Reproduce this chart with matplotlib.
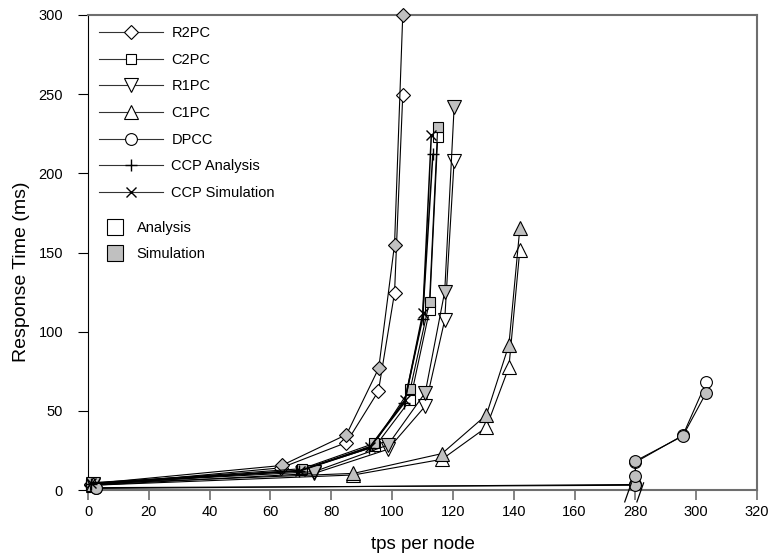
import numpy as np
import matplotlib
matplotlib.use("Agg")
import matplotlib.pyplot as plt
from matplotlib.lines import Line2D

plt.rcParams['font.family'] = ['Liberation Sans', 'DejaVu Sans']

# data (tps per node, response time in ms)
r2pc_ana_x = [1, 63.5, 85, 95.5, 100.8, 103.5]
r2pc_ana_y = [3, 14, 30, 62.5, 124.5, 249.5]
r2pc_sim_x = [1, 63.7, 85, 95.6, 100.8, 103.5]
r2pc_sim_y = [4, 15.5, 35, 77, 155, 300]

c2pc_ana_x = [1, 70, 94.4, 106, 112.3, 115]
c2pc_ana_y = [3, 12.5, 27.5, 57, 113.5, 223]
c2pc_sim_x = [1, 70.5, 94.2, 106, 112.3, 115]
c2pc_sim_y = [4, 13.5, 29.5, 64, 119, 229.5]

r1pc_ana_x = [1.5, 74.4, 98.6, 110.9, 117.3, 120.4]
r1pc_ana_y = [3, 10.5, 25.7, 53, 107.4, 208]
r1pc_sim_x = [1.5, 74.4, 98.6, 110.9, 117.3, 120.4]
r1pc_sim_y = [4, 11.6, 28.4, 61.5, 125.3, 242]

c1pc_ana_x = [1.5, 87.3, 116.4, 131, 138.4, 142]
c1pc_ana_y = [3, 9.5, 19.4, 39.6, 77.5, 151.6]
c1pc_sim_x = [1.5, 87.3, 116.4, 131, 138.4, 142]
c1pc_sim_y = [4, 10.5, 23, 47.4, 91.6, 165.3]

dpcc_ana_x = [2.5, 280, 280, 295.6, 303.3]
dpcc_ana_y = [1, 3.5, 17.5, 34.5, 68]
dpcc_sim_x = [2.5, 280, 280, 280, 295.6, 303.3]
dpcc_sim_y = [1.5, 3, 9, 18.3, 34.1, 61.5]

ccp_ana_x = [1, 69.5, 92.5, 104, 110, 113.4]
ccp_ana_y = [4, 12, 26.5, 55, 108, 212]
ccp_sim_x = [1, 69.6, 92.8, 104.3, 110.1, 112.9]
ccp_sim_y = [4.5, 12.2, 27.4, 57, 111.6, 224.2]

x_ticks = [0, 20, 40, 60, 80, 100, 120, 140, 160, 280, 300, 320]
y_ticks = [0, 50, 100, 150, 200, 250, 300]

GRAY = '#c0c0c0'
SPINE = '#6e6e6e'


# broken x axis: the 180..280 gap is collapsed
def fwd(x):
    x = np.asarray(x, dtype=float)
    return np.where(x < 230, x, x - 100)


def inv(x):
    x = np.asarray(x, dtype=float)
    return np.where(x < 180, x, x + 100)


fig = plt.figure(figsize=(7.68, 5.59), dpi=100)
ax = fig.add_axes([0.1146, 0.1234, 0.8711, 0.8498])
ax.set_xscale('function', functions=(fwd, inv))

series = [
    ('D', 7.2, r2pc_ana_x, r2pc_ana_y, r2pc_sim_x, r2pc_sim_y),
    ('s', 7.2, c2pc_ana_x, c2pc_ana_y, c2pc_sim_x, c2pc_sim_y),
    ('v', 10, r1pc_ana_x, r1pc_ana_y, r1pc_sim_x, r1pc_sim_y),
    ('^', 10, c1pc_ana_x, c1pc_ana_y, c1pc_sim_x, c1pc_sim_y),
    ('o', 8.5, dpcc_ana_x, dpcc_ana_y, dpcc_sim_x, dpcc_sim_y),
]
for m, ms, ax_x, ax_y, sx, sy in series:
    ax.plot(ax_x, ax_y, color='black', lw=0.8, marker=m, ms=ms,
            mfc='white', mec='black', mew=0.8, clip_on=False, zorder=3)
    ax.plot(sx, sy, color='black', lw=0.8, marker=m, ms=ms,
            mfc=GRAY, mec='black', mew=0.8, clip_on=False, zorder=3)

ax.plot(ccp_ana_x, ccp_ana_y, color='black', lw=1.1, marker='+', ms=9,
        mew=1.0, clip_on=False, zorder=4)
ax.plot(ccp_sim_x, ccp_sim_y, color='black', lw=1.1, marker='x', ms=7,
        mew=1.0, clip_on=False, zorder=4)

ax.set_xlim(0, 320)
ax.set_ylim(0, 300)
ax.set_xticks(x_ticks)
ax.set_xticklabels([str(t) for t in x_ticks])
ax.set_yticks(y_ticks)
ax.tick_params(axis='both', direction='out', length=7, width=1.2,
               color=SPINE, labelsize=10.5)
ax.tick_params(axis='x', pad=4)
ax.tick_params(axis='y', color='black', width=0.8, pad=11)

for s in ['top', 'right', 'bottom']:
    ax.spines[s].set_color(SPINE)
    ax.spines[s].set_linewidth(1.5)
ax.spines['left'].set_color('black')
ax.spines['left'].set_linewidth(0.8)

# break marks on x axis
trans = ax.get_xaxis_transform()
for x0 in [176.5, 180.5]:
    ax.plot([x0, x0 + 2.2], [-0.025, 0.015], color='black', lw=0.9,
            transform=trans, clip_on=False, zorder=5)

ax.set_xlabel('tps per node', fontsize=13.5)
ax.set_ylabel('Response Time (ms)', fontsize=14)
ax.xaxis.set_label_coords(0.5, -0.097)
ax.yaxis.set_label_coords(-0.087, 0.459)

# legends
names = ['R2PC', 'C2PC', 'R1PC', 'C1PC', 'DPCC']
marks = [('D', 7.2), ('s', 7.2), ('v', 10), ('^', 10), ('o', 8.5)]
handles = [Line2D([], [], color='#333333', lw=0.8, marker=m, ms=ms,
                  mfc='white', mec='black', mew=0.8) for m, ms in marks]
handles.append(Line2D([], [], color='#333333', lw=0.8, marker='+', ms=9,
                      mec='black', mew=1.0))
handles.append(Line2D([], [], color='#333333', lw=0.8, marker='x', ms=7,
                      mec='black', mew=1.0))
names += ['CCP Analysis', 'CCP Simulation']
leg1 = ax.legend(handles, names, loc='upper left',
                 bbox_to_anchor=(0.008, 0.989), frameon=False, fontsize=10.5,
                 handlelength=4.4, handletextpad=0.55, labelspacing=0.87,
                 borderaxespad=0)
ax.add_artist(leg1)

box_handles = [Line2D([], [], ls='none', marker='s', ms=11, mfc='white',
                      mec='black', mew=0.8),
               Line2D([], [], ls='none', marker='s', ms=11, mfc=GRAY,
                      mec='black', mew=0.8)]
ax.legend(box_handles, ['Analysis', 'Simulation'], loc='upper left',
          bbox_to_anchor=(0.018, 0.578), frameon=False, fontsize=10.5,
          handlelength=1.2, handletextpad=0.9, labelspacing=0.8,
          borderaxespad=0)

fig.savefig('out.png', dpi=100)
